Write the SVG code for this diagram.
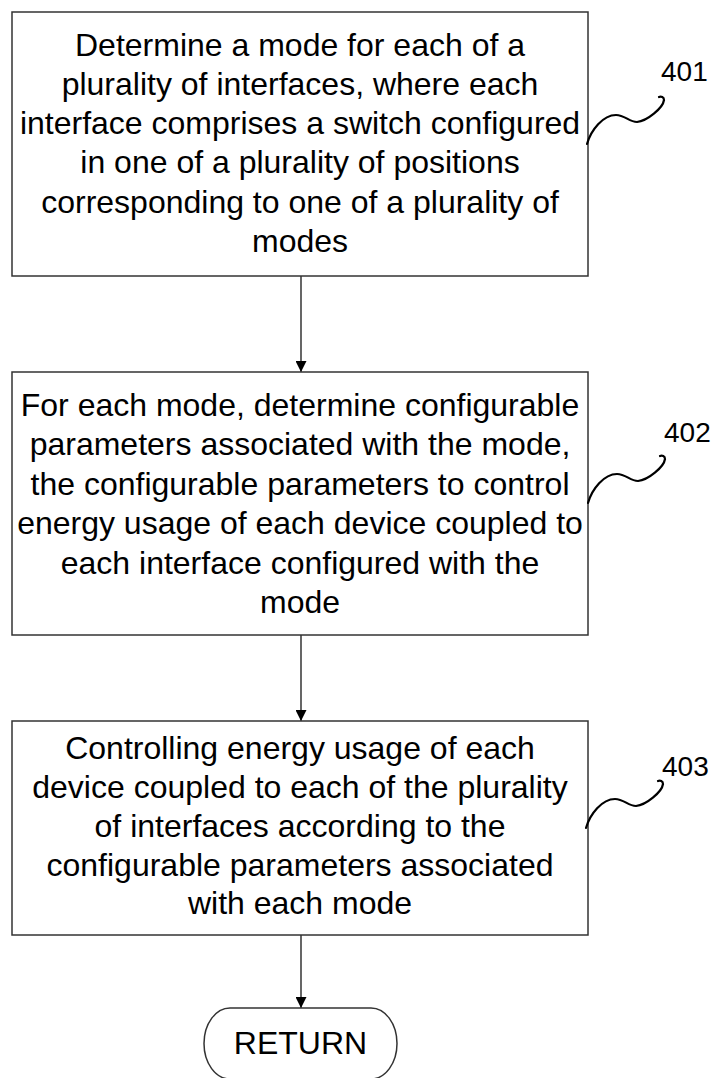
<svg xmlns="http://www.w3.org/2000/svg" width="719" height="1078" viewBox="0 0 719 1078">
<style>
.box{fill:#fff;stroke:#333;stroke-width:1.5}
.t{font-family:"Liberation Sans",Arial,sans-serif;font-size:32px;fill:#000;text-anchor:middle}
.lbl{font-family:"Liberation Sans",Arial,sans-serif;font-size:28px;fill:#000}
.sq{fill:none;stroke:#000;stroke-width:2.2;stroke-linecap:round}
.c{stroke:#000;stroke-width:1.2;fill:none}
</style>
<defs>
<marker id="ah" markerWidth="11" markerHeight="11" refX="11" refY="5.5" orient="auto" markerUnits="userSpaceOnUse">
<path d="M0,0 L11,5.5 L0,11 Z" fill="#000"/>
</marker>
<path id="squig" d="M0,0 C4,-14 16,-29 29,-29 C38,-29 42,-22 50,-22 C60,-23 76,-36 77,-44 C77,-47 74,-48 72,-47"/>
</defs>
<rect width="719" height="1078" fill="#fff"/>
<g id="connectors">
<line class="c" x1="301" y1="276" x2="301" y2="372" marker-end="url(#ah)"/>
<line class="c" x1="301" y1="635" x2="301" y2="721" marker-end="url(#ah)"/>
<line class="c" x1="301" y1="935" x2="301" y2="1008" marker-end="url(#ah)"/>
</g>
<g id="node401">
<rect class="box" x="12" y="12" width="576" height="264"/>
<text class="t" x="300" y="55.5">Determine a mode for each of a</text>
<text class="t" x="300" y="94.8">plurality of interfaces, where each</text>
<text class="t" x="300" y="134.1">interface comprises a switch configured</text>
<text class="t" x="300" y="173.4">in one of a plurality of positions</text>
<text class="t" x="300" y="212.7">corresponding to one of a plurality of</text>
<text class="t" x="300" y="252">modes</text>
<use href="#squig" class="sq" transform="translate(587,144)"/>
<text class="lbl" x="661" y="81">401</text>
</g>
<g id="node402">
<rect class="box" x="12" y="372" width="576" height="263"/>
<text class="t" x="300" y="416">For each mode, determine configurable</text>
<text class="t" x="300" y="455.4">parameters associated with the mode,</text>
<text class="t" x="300" y="494.8">the configurable parameters to control</text>
<text class="t" x="300" y="534.2">energy usage of each device coupled to</text>
<text class="t" x="300" y="573.6">each interface configured with the</text>
<text class="t" x="300" y="613">mode</text>
<use href="#squig" class="sq" transform="translate(588,503)"/>
<text class="lbl" x="664" y="442">402</text>
</g>
<g id="node403">
<rect class="box" x="12" y="721" width="576" height="214"/>
<text class="t" x="300" y="759">Controlling energy usage of each</text>
<text class="t" x="300" y="798">device coupled to each of the plurality</text>
<text class="t" x="300" y="837">of interfaces according to the</text>
<text class="t" x="300" y="876">configurable parameters associated</text>
<text class="t" x="300" y="914">with each mode</text>
<use href="#squig" class="sq" transform="translate(586,828)"/>
<text class="lbl" x="662" y="776">403</text>
</g>
<g id="return">
<path class="box" d="M230,1008 L371,1008 A26,35.5 0 0 1 371,1079 L230,1079 A26,35.5 0 0 1 230,1008 Z"/>
<text class="t" x="300.5" y="1054">RETURN</text>
</g>
</svg>
